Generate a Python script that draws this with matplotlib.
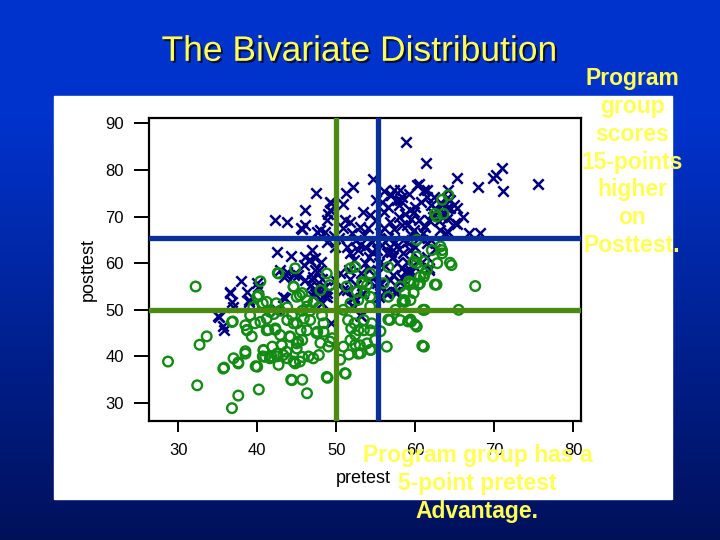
import numpy as np
import matplotlib
matplotlib.use("Agg")
import matplotlib.pyplot as plt
import matplotlib.patheffects as pe
from matplotlib.patches import Rectangle

plt.rcParams['font.family'] = ['Liberation Sans', 'DejaVu Sans']

# program group (x markers): pretest, posttest
prog_pre = [58.8, 61.4, 71.0, 69.9, 70.2, 71.1, 75.5, 67.9, 65.3, 54.6, 52.1, 51.2, 47.4, 50.9,
            49.4, 46.0, 42.3, 43.8, 45.6, 46.1, 42.5, 44.3, 37.9, 40.0, 40.1, 38.7, 36.5, 38.9,
            36.8, 36.9, 35.0, 35.7, 35.8, 43.5, 42.5, 43.8, 44.6, 53.2, 49.3, 65.3, 64.2, 65.0,
            63.8, 66.8, 68.2, 61.5, 61.7, 61.5, 49.2, 49.2, 45.7, 48.8, 47.6, 48.0, 48.6, 49.0,
            51.1, 51.8, 53.0, 53.4, 54.3, 55.0, 56.0, 56.6, 57.0, 57.7, 58.3, 59.2, 60.2, 61.1,
            61.5, 60.7, 59.8, 58.7, 57.9, 56.8, 57.3, 59.0, 60.5, 61.3, 62.3, 62.7, 63.4, 64.0,
            64.4, 63.8, 65.3, 64.2, 63.1, 46.9, 46.5, 45.9, 47.3, 48.1, 47.3, 48.2, 44.8, 43.6,
            46.1, 46.7, 47.3, 48.8, 43.3, 51.4, 51.8, 52.2, 51.6, 52.7, 53.7, 54.2, 53.6, 53.2,
            54.2, 51.8, 52.5, 51.4, 52.2, 53.4, 56.8, 56.4, 57.2, 56.2, 57.7, 58.5, 58.3, 58.9,
            59.3, 57.2, 58.3, 58.9, 61.7, 55.2, 55.4, 55.8, 55.2, 57.5, 56.4, 55.4, 49.9, 48.8,
            49.7, 50.3, 36.6, 38.9, 35.1, 45.2, 46.9, 47.6, 48.4, 53.0, 52.0, 53.3, 55.6, 56.6,
            57.7, 58.1, 59.4, 52.5, 53.5, 54.5, 55.5, 56.5, 57.5, 58.5, 59.5, 60.5, 54.0, 52.0,
            50.8, 56.0, 58.0, 60.0, 62.0, 62.5, 60.5, 54.5, 53.0, 57.0, 59.0, 61.0, 63.0, 64.0,
            66.0, 62.0, 60.0, 58.0, 55.0, 56.0, 59.5, 60.5, 61.5, 62.4, 63.2, 64.4, 64.9, 64.0,
            63.4, 62.3, 61.7, 61.1, 59.8, 58.3, 59.4, 58.1, 56.8, 57.3, 58.1, 55.8, 42.9, 43.4,
            46.1, 46.7, 47.1, 47.8, 48.6, 48.6, 49.9, 50.5, 50.9, 52.0, 52.2, 48.2, 48.8, 47.1,
            47.3, 54.3, 55.6, 56.2, 57.5, 56.8, 57.9, 58.7, 59.4, 59.8]
prog_post = [86.1, 81.4, 80.4, 78.2, 78.9, 75.4, 76.9, 76.3, 78.2, 78.0, 76.4, 75.0, 75.0, 72.6,
             72.9, 71.4, 69.3, 68.8, 67.6, 68.1, 62.4, 61.6, 56.2, 55.7, 55.0, 53.8, 53.8, 52.0,
             51.6, 50.7, 48.6, 46.6, 45.7, 52.5, 50.0, 58.2, 57.5, 48.6, 47.2, 71.8, 75.7, 68.6,
             66.4, 66.4, 66.4, 61.4, 58.6, 64.3, 73.1, 71.4, 67.4, 69.2, 66.7, 67.1, 66.7, 70.6,
             69.2, 68.9, 67.8, 71.0, 70.3, 69.2, 71.0, 72.1, 74.6, 73.5, 74.3, 74.9, 76.7, 75.6,
             74.3, 73.1, 71.0, 70.6, 69.9, 68.8, 67.4, 68.1, 69.2, 67.8, 69.9, 71.4, 72.8, 74.0,
             71.8, 70.5, 68.5, 66.7, 67.1, 62.8, 60.7, 59.6, 61.1, 60.3, 58.5, 56.7, 57.8, 57.5,
             56.5, 55.1, 53.4, 52.8, 52.8, 63.5, 62.1, 60.7, 58.5, 62.8, 63.5, 61.4, 60.0, 57.8,
             58.5, 56.7, 55.3, 54.3, 52.8, 53.7, 63.5, 62.1, 61.4, 59.3, 60.0, 62.1, 59.0, 60.3,
             62.8, 57.5, 56.8, 58.3, 59.0, 62.8, 60.0, 63.9, 55.7, 53.9, 53.4, 52.8, 63.5, 64.5,
             65.9, 65.5, 53.7, 51.6, 48.5, 57.4, 56.4, 54.1, 53.1, 48.9, 50.9, 53.4, 55.3, 53.6,
             53.9, 56.0, 57.8, 65.0, 66.0, 64.5, 66.5, 65.5, 64.5, 65.0, 66.0, 65.5, 67.5, 66.5,
             67.5, 67.5, 63.0, 63.5, 65.0, 63.0, 61.0, 62.5, 64.0, 62.5, 64.5, 66.5, 69.0, 69.5,
             70.0, 72.5, 72.0, 72.5, 73.5, 75.5, 69.5, 76.9, 75.7, 74.3, 72.9, 73.6, 72.5, 71.8,
             70.0, 70.7, 69.3, 67.9, 67.1, 68.2, 71.4, 73.6, 74.6, 75.7, 75.7, 73.2, 58.6, 57.1,
             61.4, 60.7, 57.1, 58.6, 55.0, 52.9, 56.4, 57.9, 54.3, 52.5, 50.7, 51.4, 53.6, 52.9,
             54.3, 56.1, 55.7, 53.9, 53.8, 56.4, 56.1, 58.2, 58.6, 59.3]

# comparison group (o markers): pretest, posttest
comp_pre = [28.7, 32.2, 32.4, 32.7, 33.6, 35.8, 36.8, 37.6, 36.9, 37.0, 37.6, 38.5, 38.7, 39.3,
            39.8, 40.2, 40.4, 39.7, 40.2, 40.7, 40.8, 40.7, 41.4, 41.6, 41.8, 42.3, 42.4, 42.6,
            42.5, 42.7, 43.1, 43.8, 44.3, 44.6, 44.1, 44.6, 45.0, 45.2, 45.4, 45.7, 45.7, 46.3,
            46.3, 46.5, 47.1, 47.5, 48.0, 48.9, 49.0, 49.5, 50.5, 51.2, 51.6, 52.4, 53.1, 54.4,
            55.6, 56.4, 56.6, 57.5, 58.4, 59.2, 59.4, 59.8, 60.0, 60.9, 61.0, 60.6, 61.1, 61.5,
            62.5, 62.8, 63.4, 63.2, 64.4, 65.5, 67.6, 60.2, 62.7, 63.4, 44.6, 45.0, 41.2, 39.5,
            38.7, 41.2, 42.3, 43.8, 44.2, 45.0, 45.0, 45.7, 45.7, 44.8, 47.8, 46.3, 46.7, 47.6,
            48.4, 48.4, 49.2, 48.8, 44.4, 35.7, 37.6, 38.5, 40.0, 41.0, 41.6, 43.3, 42.5, 40.8,
            41.9, 43.1, 42.9, 43.7, 50.9, 51.1, 51.8, 52.8, 53.0, 52.4, 54.3, 53.9, 54.9, 54.3,
            53.5, 52.8, 51.9, 51.5, 52.3, 53.5, 54.5, 50.9, 51.8, 52.8, 53.6, 52.6, 54.3, 51.3,
            53.3, 54.3, 56.0, 56.6, 56.8, 58.1, 59.1, 60.2, 59.5, 61.2, 58.6, 59.4, 58.7, 59.4,
            60.4, 60.6, 61.2, 62.7, 64.6, 61.1, 44.6, 45.5, 45.9, 44.4, 45.7, 46.7, 47.8, 48.2,
            47.1, 46.3, 43.8, 42.9, 42.1, 41.2, 40.4, 38.5, 36.8, 39.1, 63.4, 62.1, 59.8, 60.2,
            59.8, 56.6, 63.6, 64.2, 62.5, 42.7, 44.8, 40.0, 45.4, 48.8, 49.2, 48.0, 53.9, 53.3,
            52.4, 51.8, 54.3, 58.7, 58.1, 60.2, 61.1]
comp_post = [38.9, 55.0, 33.8, 42.5, 44.3, 37.6, 28.9, 31.6, 47.5, 39.6, 38.7, 41.1, 45.7, 44.3,
             37.9, 32.9, 56.1, 47.1, 53.2, 51.4, 41.3, 40.0, 45.7, 49.6, 40.0, 45.7, 51.4, 57.9,
             40.0, 38.2, 42.5, 39.6, 35.0, 55.0, 44.3, 38.9, 47.1, 43.2, 38.9, 35.0, 53.6, 32.1,
             50.7, 40.0, 39.6, 45.0, 42.9, 35.4, 42.1, 43.9, 39.3, 36.3, 40.4, 42.5, 40.7, 41.4,
             45.4, 42.1, 47.9, 50.0, 51.8, 56.1, 47.9, 53.6, 46.8, 42.3, 50.0, 55.7, 57.1, 58.6,
             55.4, 60.0, 62.1, 63.6, 60.1, 50.0, 55.1, 65.0, 70.0, 73.6, 54.9, 52.8, 51.7, 50.6,
             45.6, 45.6, 46.0, 47.8, 44.2, 42.8, 41.7, 43.5, 39.9, 38.5, 40.3, 45.6, 47.8, 45.3,
             45.3, 47.1, 43.2, 35.6, 34.9, 37.4, 38.5, 40.6, 37.8, 39.9, 39.6, 40.3, 40.6, 41.4,
             42.1, 42.4, 44.6, 41.0, 42.1, 36.4, 43.5, 40.6, 42.4, 44.6, 41.4, 42.8, 43.5, 45.6,
             45.6, 45.6, 46.0, 47.8, 47.1, 47.8, 47.1, 50.0, 51.4, 52.1, 53.6, 53.9, 50.7, 55.0,
             55.7, 57.8, 55.7, 52.8, 47.8, 47.8, 47.5, 46.4, 47.5, 50.0, 52.1, 52.1, 53.6, 55.7,
             55.4, 57.1, 57.8, 55.4, 59.6, 42.1, 47.1, 45.6, 48.1, 48.8, 49.8, 49.8, 50.5, 48.8,
             51.6, 52.0, 50.5, 49.8, 49.1, 48.1, 47.4, 46.7, 47.4, 48.8, 62.8, 62.8, 55.7, 61.4,
             60.3, 59.2, 70.6, 74.6, 70.6, 57.8, 58.9, 52.8, 53.1, 57.8, 55.3, 54.2, 55.3, 56.0,
             59.2, 58.9, 52.8, 51.7, 55.0, 60.0, 60.4]

# group means shown as reference lines
comp_mean_pre, comp_mean_post = 50.0, 50.0
prog_mean_pre, prog_mean_post = 55.3, 65.4

xticks = [30, 40, 50, 60, 70, 80]
yticks = [30, 40, 50, 60, 70, 80, 90]

navy = '#000080'
green = '#138a13'
line_green = '#4a8a10'
line_blue = '#0a2e9a'
yellow = '#ffff55'

fig = plt.figure(figsize=(7.2, 5.4), dpi=100)

# slide background: blue gradient + white panel
bg = fig.add_axes([0, 0, 1, 1])
top = np.array([0x00, 0x33, 0xcc]) / 255
bot = np.array([0x00, 0x10, 0x5a]) / 255
t = np.clip((np.linspace(0, 1, 540) - 0.22) / 0.78, 0, 1)[:, None]
grad = top * (1 - t) + bot * t
bg.imshow(grad[:, None, :].repeat(4, axis=1), aspect='auto', extent=[0, 1, 0, 1])
bg.add_patch(Rectangle((0.075, 0.076), 0.858, 0.746, color='white'))
bg.set_xlim(0, 1)
bg.set_ylim(0, 1)
bg.axis('off')

ax = fig.add_axes([0.207, 0.220, 0.600, 0.561])
ax.scatter(prog_pre, prog_post, marker='x', s=56, color=navy, linewidths=1.8, zorder=2)
ax.scatter(comp_pre, comp_post, marker='o', s=48, facecolors='none', edgecolors=green,
           linewidths=1.7, zorder=3)
ax.axvline(comp_mean_pre, color=line_green, lw=3.8, zorder=4)
ax.axvline(prog_mean_pre, color=line_blue, lw=3.8, zorder=4)
ax.axhline(prog_mean_post, color=line_blue, lw=3.8, zorder=5)
ax.axhline(comp_mean_post, color=line_green, lw=3.8, zorder=5)

ax.set_xlim(26.3, 81.0)
ax.set_ylim(26.1, 91.1)
ax.set_xticks(xticks)
ax.set_yticks(yticks)
ax.tick_params(axis='y', length=11, width=1.4, pad=7, labelsize=12)
ax.tick_params(axis='x', length=8, width=1.4, pad=8, labelsize=12)
for sp in ax.spines.values():
    sp.set_linewidth(1.6)
ax.set_xlabel('pretest', fontsize=13)
ax.set_ylabel('posttest', fontsize=13)
ax.xaxis.set_label_coords(0.495, -0.16)
ax.yaxis.set_label_coords(-0.12, 0.5)

fig.text(0.499, 0.905, 'The Bivariate Distribution', fontsize=25.5, color=yellow,
         ha='center', va='center',
         path_effects=[pe.withSimplePatchShadow(offset=(1.5, -1.5), shadow_rgbFace='black', alpha=0.7)])
fig.text(0.878, 0.70, 'Program\ngroup\nscores\n15-points\nhigher\non\nPosttest.',
         fontsize=16.5, fontweight='bold', color=yellow, ha='center', va='center',
         linespacing=1.26)
fig.text(0.663, 0.105, 'Program group has a\n5-point pretest\nAdvantage.',
         fontsize=16.5, fontweight='bold', color=yellow, ha='center', va='center',
         linespacing=1.28)

fig.savefig('out.png', dpi=100)
